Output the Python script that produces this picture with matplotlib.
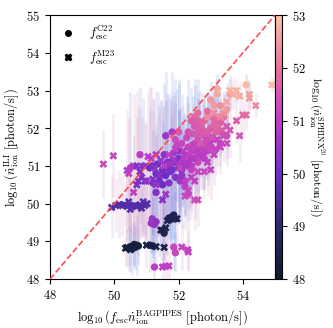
import numpy as np
import matplotlib.pyplot as plt
from matplotlib.colors import LinearSegmentedColormap
from matplotlib.lines import Line2D

plt.rcParams['font.family'] = 'serif'
plt.rcParams['font.serif'] = ['cmr10', 'DejaVu Serif']
plt.rcParams['mathtext.fontset'] = 'cm'
plt.rcParams['axes.formatter.use_mathtext'] = True
plt.rcParams['font.size'] = 9

# f_esc C22: x, y, SPHINX colour value, error on y
c22_x = [50.45, 50.5, 50.55, 50.6, 50.65, 50.7, 50.75, 50.62, 51.1, 51.2,
         51.5, 51.55, 51.7, 51.8, 51.9, 51.75, 51.85,
         51.15, 51.2, 51.25, 51.18, 51.3,
         51.25, 51.85, 51.9,
         51.1, 51.2, 51.3, 51.5, 51.6, 51.7, 51.8, 51.9, 52.0, 52.0, 51.5, 51.4,
         51.7, 52.1, 51.55, 51.9, 52.05, 51.3, 51.2,
         52.2, 52.3, 52.4, 52.5, 52.6, 52.7, 52.8, 52.9, 53.0, 52.3, 52.5, 52.7,
         53.1, 53.2, 52.4, 52.6, 52.8, 52.9, 53.0, 52.2, 52.4, 51.9, 52.1, 52.0,
         52.5, 52.6, 52.8, 53.3, 53.4, 51.6, 51.8,
         53.1, 53.2, 53.2, 53.0, 53.3, 52.9, 54.1, 53.6, 53.5, 53.4,
         50.8, 50.5, 50.9, 52.3, 52.2, 53.3, 53.5,
         51.65, 51.85, 52.15, 52.35, 52.55, 52.75, 52.95, 53.15, 52.05, 52.25,
         52.45, 52.65, 52.85, 53.05, 51.95, 51.75, 52.1, 52.3, 52.5, 52.7,
         51.45, 51.6, 51.8, 52.0, 51.35, 52.9, 53.1, 53.3, 52.6, 52.4]
c22_y = [48.82, 48.86, 48.8, 48.88, 48.84, 48.9, 48.88, 48.92, 48.9, 48.88,
         49.3, 49.22, 49.62, 49.66, 49.6, 49.58, 49.7,
         49.48, 49.55, 49.45, 49.6, 49.52,
         48.32, 48.85, 48.7,
         50.95, 51.0, 50.8, 50.9, 50.75, 51.0, 50.9, 51.1, 51.2, 51.4, 50.5, 50.6,
         50.55, 50.9, 51.3, 50.7, 50.6, 50.3, 50.55,
         51.3, 51.5, 51.4, 51.6, 51.7, 51.5, 51.8, 51.9, 52.0, 51.9, 52.05, 52.1,
         52.1, 52.2, 51.0, 51.1, 51.2, 51.4, 51.5, 50.6, 50.9, 51.7, 51.6, 51.9,
         52.3, 52.4, 52.2, 51.9, 52.3, 51.8, 51.9,
         52.6, 52.9, 53.05, 52.75, 52.6, 52.3, 53.15, 52.9, 52.5, 52.4,
         51.3, 50.95, 51.0, 50.25, 50.45, 51.6, 51.8,
         51.1, 51.35, 51.15, 51.25, 51.45, 51.95, 51.65, 51.9, 51.05, 51.75,
         51.85, 51.95, 51.55, 51.75, 51.55, 50.85, 50.75, 51.05, 51.2, 51.3,
         50.75, 50.95, 51.15, 50.95, 51.05, 52.45, 52.25, 52.15, 52.2, 52.2]
c22_c = [48.3, 48.3, 48.3, 48.35, 48.3, 48.35, 48.3, 48.3, 48.4, 48.4,
         48.5, 48.5, 48.6, 48.6, 48.6, 48.6, 48.6,
         50.5, 50.6, 50.5, 50.6, 50.5,
         51.0, 51.2, 51.2,
         49.9, 50.0, 50.0, 50.1, 50.0, 50.2, 50.1, 50.3, 50.2, 50.4, 50.0, 50.1,
         50.3, 50.5, 50.4, 50.3, 50.6, 50.3, 50.2,
         51.0, 51.2, 51.1, 51.3, 51.4, 51.3, 51.5, 51.6, 51.6, 51.4, 51.5, 51.7,
         51.8, 51.8, 51.0, 51.2, 51.1, 51.2, 51.4, 51.0, 51.1, 51.3, 51.2, 51.5,
         51.8, 51.9, 51.8, 51.5, 52.0, 50.6, 50.8,
         52.5, 52.7, 52.7, 52.5, 52.4, 52.3, 52.9, 52.6, 52.5, 52.4,
         51.0, 50.8, 50.4, 51.2, 51.0, 51.2, 51.4,
         50.3, 50.6, 50.9, 51.1, 51.3, 51.6, 51.4, 51.7, 50.8, 51.3,
         51.5, 51.6, 51.3, 51.5, 51.2, 50.2, 50.5, 50.8, 51.0, 51.1,
         49.9, 50.1, 50.3, 50.4, 49.9, 51.9, 51.8, 51.7, 51.7, 51.6]
c22_err = [0.6, 0.5, 0.7, 0.5, 0.6, 0.8, 0.5, 0.6, 0.7, 0.6,
           0.9, 0.7, 0.8, 0.6, 0.7, 0.9, 0.6,
           0.8, 1.0, 0.7, 0.9, 0.8,
           0.5, 0.6, 0.5,
           1.6, 1.8, 1.3, 1.7, 1.2, 1.9, 1.4, 1.6, 1.3, 1.8, 1.7, 2.0,
           1.3, 1.0, 1.9, 1.2, 0.9, 1.5, 1.4,
           1.1, 1.2, 1.0, 0.9, 1.1, 0.8, 1.0, 0.9, 0.7, 1.4, 1.1, 0.9,
           0.7, 0.6, 1.0, 0.9, 0.8, 0.9, 0.6, 0.9, 1.1, 1.6, 1.3, 1.4,
           1.0, 0.9, 0.7, 0.6, 0.7, 1.7, 1.6,
           0.5, 0.4, 0.4, 0.5, 0.5, 0.6, 0.3, 0.4, 0.5, 0.5,
           1.8, 2.0, 1.8, 0.7, 0.8, 0.6, 0.6,
           1.8, 1.6, 1.2, 1.0, 0.9, 0.7, 0.8, 0.6, 1.5, 1.1,
           1.0, 0.8, 0.9, 0.7, 1.5, 1.9, 1.4, 1.2, 1.0, 0.9,
           2.0, 1.8, 1.7, 1.5, 1.9, 0.6, 0.6, 0.5, 0.8, 0.9]

# f_esc M23
m23_x = [49.66, 49.97, 49.92, 50.05, 50.15, 50.25, 50.32, 50.4, 50.5, 50.55, 50.62, 50.7,
         50.8, 50.85, 50.95, 51.02, 50.45, 50.9, 50.5,
         50.35, 50.5, 50.4, 51.0, 51.3, 51.55, 51.45, 51.6, 51.65, 51.95,
         51.5, 51.6, 51.7, 52.1, 52.3, 52.28,
         50.6, 50.4, 50.45, 50.7, 50.8, 50.7, 50.6, 50.95, 51.1, 51.05, 51.15, 50.85,
         51.0, 51.3, 51.5, 51.6, 51.4,
         51.7, 51.9, 51.3, 51.55, 52.05, 52.2, 52.5, 52.6, 52.3, 52.5, 52.6, 52.4, 52.8,
         52.2, 52.4, 52.6, 52.8, 53.0, 53.2, 53.4, 53.5, 53.6, 53.5, 53.8, 53.9, 54.0,
         54.1, 54.4, 54.2, 54.2, 54.9, 53.6, 53.7, 53.8, 53.9, 53.5, 53.3, 53.1,
         53.1, 53.3, 52.9, 53.0, 52.7, 53.2,
         52.35, 52.55, 52.75, 52.95, 53.15, 53.35, 53.05, 52.85, 52.65, 52.45,
         51.25, 51.45, 51.85, 52.15, 51.75, 50.75, 51.2]
m23_y = [51.05, 51.27, 49.9, 49.95, 49.98, 49.95, 49.97, 49.93, 49.96, 49.92, 49.95, 49.93,
         49.97, 49.88, 49.95, 50.0, 50.05, 50.05, 49.85,
         48.82, 48.78, 48.84, 48.9, 48.86, 48.84, 49.3, 49.36, 49.55, 49.6,
         48.32, 48.34, 48.35, 48.85, 48.72, 48.78,
         51.0, 50.88, 50.8, 51.0, 50.85, 50.5, 50.3, 50.6, 51.0, 51.25, 51.2, 50.7,
         50.6, 50.5, 50.1, 50.25, 50.75,
         51.3, 51.45, 51.3, 51.0, 50.95, 50.2, 50.1, 50.1, 50.35, 50.6, 50.85, 50.7, 50.85,
         51.0, 51.2, 51.4, 51.4, 51.6, 51.7, 51.8, 51.6, 51.95, 52.05, 52.2, 51.8, 52.35,
         52.35, 52.6, 52.8, 52.9, 53.15, 53.0, 52.9, 53.0, 52.85, 52.7, 52.3, 52.4,
         51.3, 51.5, 51.1, 50.9, 51.6, 52.0,
         51.1, 51.3, 51.25, 51.5, 51.45, 51.95, 51.75, 51.7, 51.85, 51.55,
         50.95, 51.15, 51.15, 51.4, 51.05, 50.6, 50.65]
m23_c = [51.3, 51.2, 49.7, 49.6, 49.6, 49.6, 49.6, 49.6, 49.6, 49.6, 49.6, 49.6,
         49.6, 49.6, 49.6, 49.6, 49.7, 49.7, 49.7,
         48.3, 48.3, 48.3, 48.4, 48.4, 48.4, 48.5, 48.5, 48.6, 48.6,
         51.0, 51.0, 51.0, 51.1, 51.1, 51.1,
         50.8, 50.9, 51.0, 50.3, 50.2, 50.2, 51.0, 50.0, 50.1, 51.0, 50.9, 50.3,
         50.4, 50.5, 50.3, 50.6, 50.4,
         51.0, 51.1, 50.8, 51.0, 51.2, 51.2, 51.3, 51.3, 51.2, 51.1, 51.2, 51.1, 51.2,
         50.7, 50.8, 50.9, 51.0, 51.0, 51.1, 51.3, 51.3, 51.5, 51.5, 51.6, 51.5, 51.8,
         51.9, 52.3, 52.5, 52.6, 52.9, 52.8, 52.7, 52.8, 52.7, 52.6, 52.2, 52.3,
         51.1, 51.2, 51.0, 51.1, 51.5, 51.8,
         50.8, 51.0, 50.9, 51.2, 51.1, 51.6, 51.4, 51.3, 51.5, 51.1,
         50.4, 50.5, 50.7, 50.9, 50.6, 50.2, 50.3]
m23_err = [0.9, 1.1, 0.8, 0.7, 0.9, 0.8, 0.6, 0.9, 0.7, 1.0, 0.8, 0.7,
           0.9, 0.6, 0.8, 1.0, 0.7, 0.9, 0.6,
           0.5, 0.6, 0.5, 0.6, 0.5, 0.6, 0.8, 0.7, 0.9, 0.8,
           0.4, 0.5, 0.4, 0.6, 0.5, 0.5,
           1.9, 1.6, 1.5, 2.0, 1.7, 1.8, 1.5, 1.6, 2.1, 1.7, 1.9, 1.6,
           1.5, 1.4, 1.2, 1.5, 1.6,
           1.5, 1.4, 1.7, 1.6, 1.2, 0.9, 0.8, 0.7, 1.1, 1.0, 0.8, 1.1, 0.7,
           1.3, 1.2, 1.1, 1.0, 0.8, 0.7, 0.7, 0.6, 0.7, 0.6, 0.6, 0.7, 0.5,
           0.4, 0.3, 0.4, 0.4, 0.2, 0.4, 0.4, 0.3, 0.4, 0.5, 0.5, 0.5,
           0.8, 0.7, 0.9, 0.8, 0.7, 0.6,
           1.2, 1.0, 0.9, 0.8, 0.7, 0.6, 0.7, 0.8, 0.9, 1.1,
           1.8, 1.6, 1.4, 1.2, 1.5, 2.0, 1.8]

cmap = LinearSegmentedColormap.from_list(
    'sphinx', ['#0e1a2b', '#2c2a6e', '#6a2ec8', '#bf3cc4', '#e8709a', '#f9c3a6'])

fig = plt.figure(figsize=(3.33, 3.28), dpi=100)
ax = fig.add_axes([0.150, 0.149, 0.676, 0.805])
cax = fig.add_axes([0.826, 0.149, 0.021, 0.805])

# error bars
ax.errorbar(c22_x, c22_y, yerr=c22_err, fmt='none', ecolor='#5a78e0',
            alpha=0.15, elinewidth=2, zorder=1)
ax.errorbar(m23_x, m23_y, yerr=m23_err, fmt='none', ecolor='#d8a0c8',
            alpha=0.2, elinewidth=2, zorder=1)

ax.plot([48, 55], [48, 55], '--', color='#ff4d4d', lw=1.2, zorder=3)

sc = ax.scatter(c22_x, c22_y, c=c22_c, cmap=cmap, vmin=48, vmax=53,
                marker='o', s=28, linewidths=0, zorder=2)
ax.scatter(m23_x, m23_y, c=m23_c, cmap=cmap, vmin=48, vmax=53,
           marker='X', s=32, linewidths=0, zorder=2)

ax.set_xlim(48, 55)
ax.set_ylim(48, 55)
ax.set_xticks([48, 50, 52, 54])
ax.set_yticks([48, 49, 50, 51, 52, 53, 54, 55])
ax.set_xlabel(r'$\log_{10}(f_{\rm esc}\dot{n}_{\rm ion}^{\rm BAGPIPES}\ \mathrm{[photon/s]})$')
ax.set_ylabel(r'$\log_{10}(\dot{n}_{\rm ion}^{\rm ILI}\ \mathrm{[photon/s]})$')

handles = [Line2D([], [], marker='o', color='k', ls='none', markersize=4),
           Line2D([], [], marker='X', color='k', ls='none', markersize=4.5)]
ax.legend(handles, [r'$f_{\rm esc}^{\rm C22}$', r'$f_{\rm esc}^{\rm M23}$'],
          loc='upper left', frameon=False, fontsize=9, handletextpad=0.9,
          handlelength=1.5, borderaxespad=0.3, labelspacing=0.5)

cb = fig.colorbar(sc, cax=cax)
cb.set_ticks([48, 49, 50, 51, 52, 53])
cb.set_label(r'$\log_{10}(\dot{n}_{\rm ion}^{\rm SPHINX^{20}}\ \mathrm{[photon/s]})$',
             rotation=270, labelpad=15, fontsize=8.5)

fig.savefig('out.png', dpi=100)
